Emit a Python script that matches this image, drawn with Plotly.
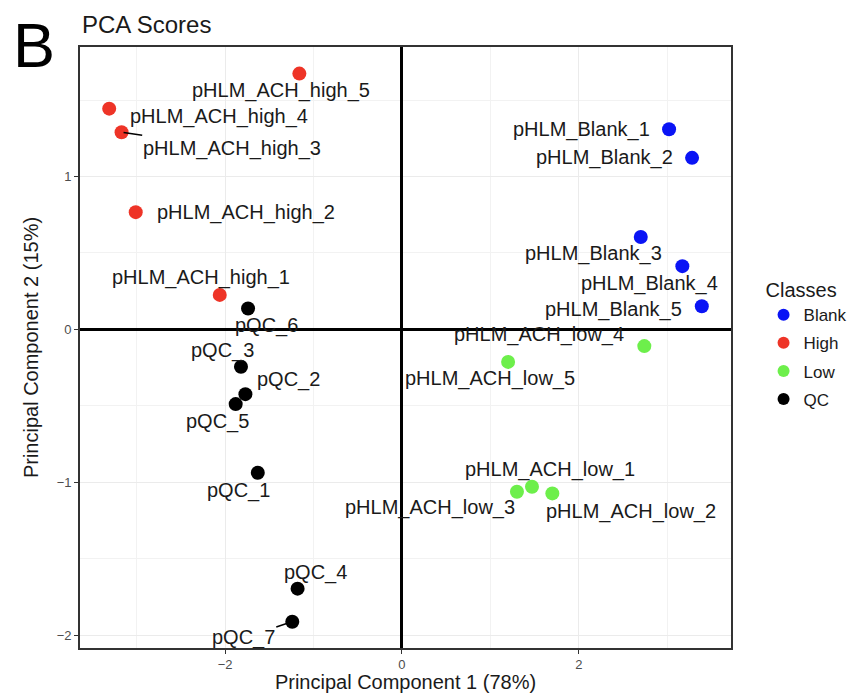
import plotly.graph_objects as go

# ---- data ----
classes = ["Blank", "High", "Low", "QC"]
class_colors = {"Blank": "#0A14F5", "High": "#EE3427", "Low": "#6DEF4B", "QC": "#000000"}

blank_names = ["pHLM_Blank_1", "pHLM_Blank_2", "pHLM_Blank_3", "pHLM_Blank_4", "pHLM_Blank_5"]
blank_pc1 = [3.02, 3.28, 2.70, 3.17, 3.39]
blank_pc2 = [1.309, 1.122, 0.605, 0.414, 0.152]

high_names = ["pHLM_ACH_high_1", "pHLM_ACH_high_2", "pHLM_ACH_high_3", "pHLM_ACH_high_4", "pHLM_ACH_high_5"]
high_pc1 = [-2.06, -3.01, -3.17, -3.31, -1.16]
high_pc2 = [0.226, 0.767, 1.290, 1.444, 1.673]

low_names = ["pHLM_ACH_low_1", "pHLM_ACH_low_2", "pHLM_ACH_low_3", "pHLM_ACH_low_4", "pHLM_ACH_low_5"]
low_pc1 = [1.47, 1.70, 1.30, 2.74, 1.20]
low_pc2 = [-1.029, -1.072, -1.061, -0.109, -0.212]

qc_names = ["pQC_1", "pQC_2", "pQC_3", "pQC_4", "pQC_5", "pQC_6", "pQC_7"]
qc_pc1 = [-1.63, -1.77, -1.82, -1.18, -1.88, -1.74, -1.24]
qc_pc2 = [-0.937, -0.423, -0.244, -1.695, -0.488, 0.137, -1.911]

# label placement offsets in pixels (dx right, dy down), and whether a segment is drawn
blank_off = [(-88, 0), (-88, 0), (-47, 17), (-33, 17), (-88, 3)]
high_off = [(-19, -17), (110, 0), (110, 16), (110, 8), (-18, 17)]
low_off = [(18, -17), (79, 18), (-87, 16), (-105, -12), (-18, 17)]
qc_off = [(-19, 18), (43, -15), (-18, -16), (18, -16), (-18, 17), (18, 17), (-49, 16)]
segment_labels = {"pHLM_ACH_high_3", "pQC_7"}

groups = [
    ("Blank", blank_names, blank_pc1, blank_pc2, blank_off),
    ("High", high_names, high_pc1, high_pc2, high_off),
    ("Low", low_names, low_pc1, low_pc2, low_off),
    ("QC", qc_names, qc_pc1, qc_pc2, qc_off),
]

FONT = "Liberation Sans, Arial, Helvetica, sans-serif"

fig = go.Figure()
annotations = []
for cls, names, xs, ys, offs in groups:
    fig.add_trace(go.Scatter(
        x=xs, y=ys, mode="markers", name=cls, legendgroup=cls,
        marker=dict(size=14, color=class_colors[cls]),
        hovertext=names, hoverinfo="text",
    ))
    for n, x, y, (dx, dy) in zip(names, xs, ys, offs):
        if n in segment_labels:
            annotations.append(dict(
                x=x, y=y, xref="x", yref="y", text=n, showarrow=True,
                ax=dx, ay=dy, arrowhead=0, arrowwidth=1.6, arrowcolor="#000000",
                standoff=2, font=dict(family=FONT, size=20, color="#1a1a1a"),
            ))
        else:
            annotations.append(dict(
                x=x, y=y, xref="x", yref="y", text=n, showarrow=False,
                xshift=dx, yshift=-dy, font=dict(family=FONT, size=20, color="#1a1a1a"),
            ))

# panel letter and title
annotations.append(dict(text="B", xref="paper", yref="paper", x=-0.104, y=1.063,
                        xanchor="left", yanchor="top", showarrow=False, borderpad=0,
                        font=dict(family=FONT, size=63, color="#000000")))
annotations.append(dict(text="PCA Scores", xref="paper", yref="paper", x=0.0, y=1.038,
                        xanchor="left", yanchor="middle", showarrow=False,
                        font=dict(family=FONT, size=24, color="#1a1a1a")))

fig.update_layout(
    width=850, height=685,
    margin=dict(l=72, r=127, t=39, b=45, autoexpand=False),
    paper_bgcolor="white", plot_bgcolor="white",
    font=dict(family=FONT, color="#1a1a1a"),
    annotations=annotations,
    showlegend=True,
    legend=dict(
        title=dict(text="Classes", font=dict(family=FONT, size=20, color="#1a1a1a")),
        x=1.05, y=0.627, xanchor="left", yanchor="top",
        font=dict(family=FONT, size=17, color="#1a1a1a"),
        itemsizing="constant", tracegroupgap=3, bgcolor="rgba(0,0,0,0)",
    ),
)

fig.update_xaxes(
    range=[-3.64, 3.72], tickvals=[-2, 0, 2], ticktext=["\u22122", "0", "2"],
    automargin=False,
    showgrid=True, gridcolor="#EBEBEB", gridwidth=1.4,
    minor=dict(dtick=1, tick0=0, showgrid=True, gridcolor="#F2F2F2", gridwidth=0.8, ticks=""),
    zeroline=True, zerolinecolor="#000000", zerolinewidth=2.6,
    showline=True, mirror=True, linecolor="#333333", linewidth=1.6,
    ticks="outside", ticklen=4, tickcolor="#333333", tickwidth=1.2,
    tickfont=dict(family=FONT, size=13, color="#4D4D4D"),
    title=dict(text="Principal Component 1 (78%)", standoff=2,
               font=dict(family=FONT, size=20, color="#1a1a1a")),
)
fig.update_yaxes(
    range=[-2.083, 1.847], tickvals=[-2, -1, 0, 1], ticktext=["\u22122", "\u22121", "0", "1"],
    automargin=False,
    showgrid=True, gridcolor="#EBEBEB", gridwidth=1.4,
    minor=dict(dtick=0.5, tick0=0, showgrid=True, gridcolor="#F2F2F2", gridwidth=0.8, ticks=""),
    zeroline=True, zerolinecolor="#000000", zerolinewidth=2.6,
    showline=True, mirror=True, linecolor="#333333", linewidth=1.6,
    ticks="outside", ticklen=4, tickcolor="#333333", tickwidth=1.2,
    tickfont=dict(family=FONT, size=13, color="#4D4D4D"),
    title=dict(text="Principal Component 2 (15%)", standoff=13,
               font=dict(family=FONT, size=20, color="#1a1a1a")),
)

fig.write_html("out.html")
